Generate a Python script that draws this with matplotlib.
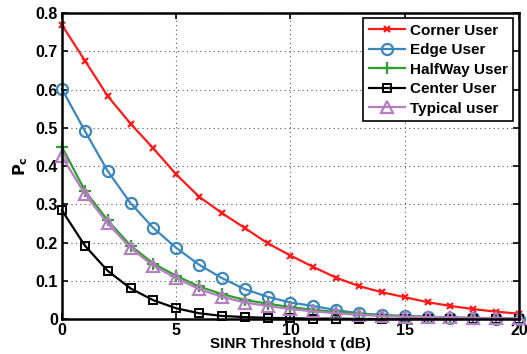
import numpy as np
import matplotlib
matplotlib.use('Agg')
import matplotlib.pyplot as plt

plt.rc('font', family=['Liberation Sans', 'DejaVu Sans'], weight='bold', size=10)

# SINR threshold (dB)
tau = np.arange(0, 21)

corner = [0.769, 0.676, 0.583, 0.511, 0.446, 0.378, 0.320, 0.277, 0.238, 0.198, 0.166,
          0.136, 0.108, 0.086, 0.070, 0.057, 0.044, 0.034, 0.026, 0.019, 0.014]
edge = [0.601, 0.492, 0.387, 0.303, 0.238, 0.186, 0.142, 0.107, 0.078, 0.058, 0.043,
        0.034, 0.023, 0.015, 0.010, 0.007, 0.005, 0.003, 0.002, 0.001, 0.001]
halfway = [0.450, 0.336, 0.258, 0.192, 0.145, 0.113, 0.085, 0.065, 0.050, 0.040, 0.031,
           0.024, 0.018, 0.014, 0.010, 0.008, 0.006, 0.004, 0.003, 0.002, 0.002]
center = [0.284, 0.192, 0.126, 0.080, 0.049, 0.028, 0.015, 0.008, 0.005, 0.003, 0.002,
          0.001, 0.001, 0.0, 0.0, 0.0, 0.0, 0.0, 0.0, 0.0, 0.0]
typical = [0.425, 0.327, 0.250, 0.186, 0.139, 0.107, 0.078, 0.058, 0.043, 0.034, 0.026,
           0.020, 0.015, 0.011, 0.008, 0.006, 0.005, 0.004, 0.003, 0.002, 0.002]

fig = plt.figure(figsize=(5.27, 3.54), dpi=100)
ax = fig.add_axes([0.1176, 0.0989, 0.8672, 0.8641])

lw = 1.6
ax.plot(tau, corner, '-x', color='#ff1a1a', lw=lw, ms=5, mew=1.6, label='Corner User', clip_on=False)
ax.plot(tau, edge, '-o', color='#3a87c0', lw=lw, ms=8, mew=1.6, mfc='none', label='Edge User', clip_on=False)
ax.plot(tau, halfway, '-+', color='#2e9e2e', lw=lw, ms=8, mew=1.6, label='HalfWay User', clip_on=False)
ax.plot(tau, center, '-s', color='black', lw=lw, ms=6, mew=1.4, mfc='none', label='Center User', clip_on=False)
ax.plot(tau, typical, '-^', color='#b47fc0', lw=lw, ms=8, mew=1.6, mfc='none', label='Typical user', clip_on=False)

ax.set_xlim(0, 20)
ax.set_ylim(0, 0.8)
ax.set_xticks([0, 5, 10, 15, 20])
ax.set_yticks(np.arange(0, 0.81, 0.1))
ax.set_yticklabels(['0', '0.1', '0.2', '0.3', '0.4', '0.5', '0.6', '0.7', '0.8'])
ax.grid(True, linestyle=(0, (1, 3)), color='#555555', lw=0.8)
ax.tick_params(direction='in', length=4, width=1.2, top=True, right=True, labelsize=11.5, pad=3)
for s in ax.spines.values():
    s.set_linewidth(1.8)

ax.set_xlabel('SINR Threshold τ (dB)', fontsize=11, fontweight='bold', labelpad=-1)
ax.set_ylabel(r'$\mathbf{P_c}$', fontsize=11.5, labelpad=4)

leg = ax.legend(loc='upper right', bbox_to_anchor=(0.987, 0.983), borderaxespad=0,
                fontsize=11, frameon=True, fancybox=False, edgecolor='black',
                borderpad=0.35, labelspacing=0.36, handlelength=2.4, handletextpad=0.3)
leg.get_frame().set_linewidth(1.2)
leg.get_frame().set_alpha(1)

fig.savefig('out.png', dpi=100)
